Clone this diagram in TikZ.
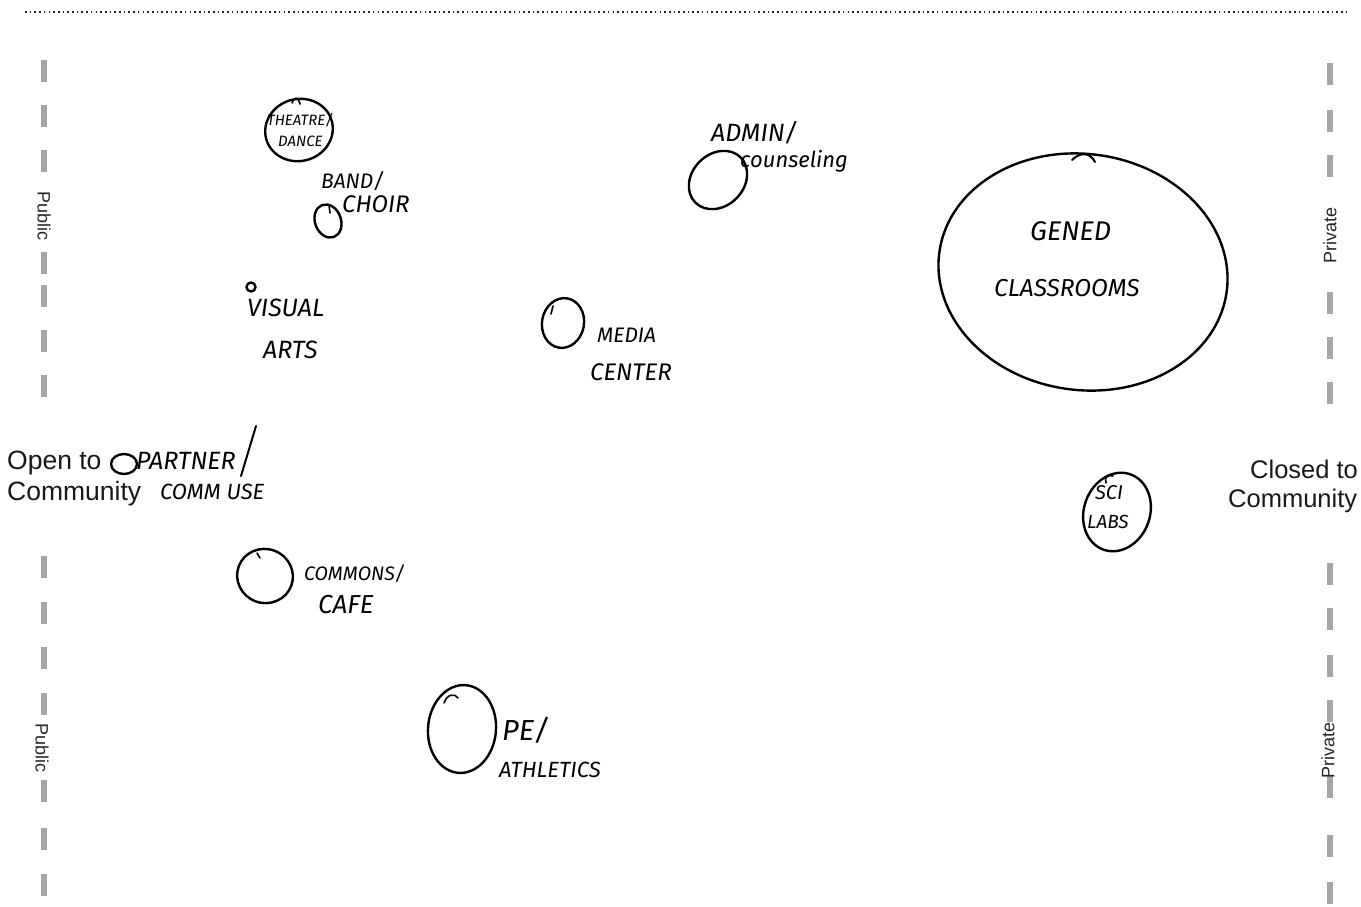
\documentclass[tikz,border=0pt]{standalone}
\usepackage{fontspec}
\setmainfont{Liberation Sans}
\newfontfamily\hand{Fira Sans}
\usetikzlibrary{shapes.geometric}
\tikzset{
  bar/.style={draw=gray!70, line width=5.5pt},
  side/.style={font=\fontsize{18}{20}\selectfont, text=black!85, inner sep=1pt},
  axis/.style={font=\fontsize{26.5}{31}\selectfont, text=black!90, inner sep=0pt},
  blob/.style={draw=black, line width=2.4pt, ellipse, inner sep=0pt},
  hw/.style={font=\hand\itshape\fontsize{#1}{#1}\selectfont, text=black, inner sep=0pt, anchor=west},
  hw/.default=20,
  slash/.style={draw=black, line width=2pt, line cap=round},
  hook/.style={draw=black, line width=1.6pt, line cap=round},
}
\begin{document}
\begin{tikzpicture}[x=1pt,y=-1pt]
\clip (0,0) rectangle (1361,906);
\fill[white] (0,0) rectangle (1361,906);
% top dotted rule
\draw[black!85, line width=2pt, dash pattern=on 1.6pt off 3.1pt] (25,12) -- (1346,12);
% left dashes
\foreach \a in {60,105,150,252,285,330,375,556,602,647,693,780,828,874}
  \draw[bar] (44,\a) -- (44,\a+22);
\node[side, rotate=-90] (pubA) at (44,216) {Public};
\node[side, rotate=-90] (pubB) at (42,748) {Public};
% right dashes
\foreach \a in {63,110,155,292,337,382,563,608,655,700,776,835,882}
  \draw[bar] (1330,\a) -- (1330,\a+22);
\node[side, rotate=90] (privA) at (1330,235) {Private};
\node[side, rotate=90] (privB) at (1328,750) {Private};
% axis labels
\node[axis, anchor=west] (openA) at (7,463) {Open to};
\node[axis, anchor=west] (openB) at (7,494) {Community};
\node[axis, anchor=west, font=\fontsize{25.5}{31}\selectfont] (closedA) at (1250,469) {Closed to};
\node[axis, anchor=west, font=\fontsize{25.5}{31}\selectfont] (closedB) at (1228,501) {Community};

% Theatre / Dance
\node[blob, minimum width=68pt, minimum height=62pt, rotate=15] (theatre) at (299,130) {};
\draw[hook] (292,103) .. controls (294,97) and (298,96) .. (300,104);
\node[hw=15] (theatreT) at (267,120) {THEATRE/};
\node[hw=15] (danceT) at (278,141) {DANCE};
% Band / Choir
\node[blob, minimum width=26pt, minimum height=34pt, rotate=20] (band) at (328,221) {};
\draw[hook] (329,205) -- (330,213);
\node[hw=21] (bandT) at (321,181) {BAND/};
\node[hw=24] (choirT) at (342,204) {CHOIR};
% Admin / Counseling
\node[blob, minimum width=52pt, minimum height=64pt, rotate=-45] (admin) at (718,180) {};
\node[hw=25] (adminT) at (711,133) {ADMIN/};
\node[hw=22] (counsT) at (740,161) {counseling};
% GenEd classrooms
\node[blob, minimum width=290pt, minimum height=236pt, rotate=-8] (gened) at (1083,272) {};
\draw[hook, line width=2pt] (1072,160) .. controls (1080,152) and (1090,152) .. (1095,162);
\node[hw=27] (genedT) at (1030,231) {GENED};
\node[hw=24.5] (classT) at (994,288) {CLASSROOMS};
% Visual arts
\node[blob, minimum width=9pt, minimum height=9pt] (visual) at (251,287) {};
\node[hw=25] (visualT) at (247,308) {VISUAL};
\node[hw=25] (artsT) at (263,350) {ARTS};
% Media center
\node[blob, minimum width=42pt, minimum height=50pt, rotate=-10] (media) at (563,323) {};
\draw[hook] (553,306) -- (551,314);
\node[hw=21] (mediaT) at (597,335) {MEDIA};
\node[hw=24] (centerT) at (590,372) {CENTER};
% Partner / community use
\node[blob, minimum width=26pt, minimum height=20pt] (partner) at (124,464) {};
\node[hw=25] (partnerT) at (136,461) {PARTNER};
\draw[slash] (256,426) -- (241,476);
\node[hw=22] (commT) at (160,492) {COMM USE};
% Sci labs
\node[blob, minimum width=66pt, minimum height=80pt, rotate=-20] (sci) at (1117,512) {};
\draw[hook] (1106,483) .. controls (1104,477) and (1108,474) .. (1113,476);
\node[hw=20] (sciT) at (1095,493) {SCI};
\node[hw=19] (labsT) at (1087,522) {LABS};
% Commons / cafe
\node[blob, minimum width=56pt, minimum height=54pt, rotate=-20] (commons) at (265,576) {};
\draw[hook] (257,553) -- (260,558);
\node[hw=19.5] (commonsT) at (304,574) {COMMONS/};
\node[hw=26] (cafeT) at (318,605) {CAFE};
% PE / athletics
\node[blob, minimum width=68pt, minimum height=88pt, rotate=-5] (pe) at (462,729) {};
\draw[hook] (444,703) .. controls (447,694) and (455,693) .. (458,698);
\node[hw=29] (peT) at (502,730) {PE/};
\node[hw=22] (athT) at (499,770) {ATHLETICS};
\end{tikzpicture}
\end{document}
